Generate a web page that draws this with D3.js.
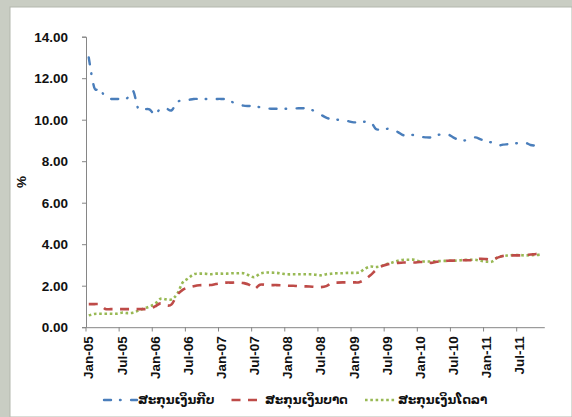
<!DOCTYPE html>
<html>
<head>
<meta charset="utf-8">
<script src="https://cdn.jsdelivr.net/npm/d3@7"></script>
<style>
  html, body { margin: 0; padding: 0; background: #c9cdc3; }
  svg { display: block; }
</style>
</head>
<body>
<svg id="chart" width="572" height="417"></svg>
<script>
const months = (function () {
  const names = ["Jan","Feb","Mar","Apr","May","Jun","Jul","Aug","Sep","Oct","Nov","Dec"];
  const out = [];
  for (let y = 5; y <= 11; y++) {
    for (let m = 0; m < 12; m++) {
      if (y === 11 && m > 10) break;
      out.push(names[m] + "-" + String(y).padStart(2, "0"));
    }
  }
  return out;
})();

const tickLabels = ["Jan-05","Jul-05","Jan-06","Jul-06","Jan-07","Jul-07","Jan-08","Jul-08","Jan-09","Jul-09","Jan-10","Jul-10","Jan-11","Jul-11"];
const yTicks = [0, 2, 4, 6, 8, 10, 12, 14];

const seriesNames = ["ສະກຸນເງິນກີບ", "ສະກຸນເງິນບາດ", "ສະກຸນເງິນໂດລາ"];

const kip = [13.0,11.55,11.5,11.08,11.0,11.0,11.0,11.05,11.4,10.5,10.5,10.5,
  10.25,10.55,10.55,10.45,10.85,10.92,10.95,11.0,11.0,11.0,11.0,11.0,
  11.0,10.98,10.85,10.75,10.68,10.66,10.65,10.6,10.55,10.53,10.53,10.53,
  10.53,10.53,10.55,10.55,10.5,10.4,10.25,10.1,10.02,10.0,10.0,9.93,
  9.87,9.9,9.9,9.92,9.55,9.55,9.56,9.55,9.4,9.25,9.28,9.25,
  9.18,9.15,9.15,9.25,9.3,9.3,9.15,9.03,9.0,9.05,9.15,9.05,
  8.95,8.9,8.75,8.8,8.82,8.85,8.88,8.9,8.78,8.75,8.75];

const baht = [1.11,1.11,1.1,0.88,0.87,0.87,0.87,0.87,0.87,0.87,0.87,0.88,
  1.0,1.15,1.05,1.1,1.55,1.8,1.9,1.97,2.02,2.03,2.03,2.08,
  2.13,2.15,2.15,2.16,2.13,2.05,1.85,2.05,2.04,2.03,2.03,2.02,
  2.0,2.0,1.98,1.97,1.96,1.94,1.93,1.98,2.13,2.15,2.16,2.16,
  2.16,2.17,2.3,2.5,2.75,2.93,3.02,3.07,3.1,3.12,3.12,3.12,
  3.14,3.14,3.1,3.15,3.18,3.2,3.21,3.22,3.23,3.23,3.27,3.3,
  3.28,3.25,3.35,3.43,3.45,3.46,3.46,3.47,3.5,3.53,3.54];

const dollar = [0.57,0.64,0.65,0.65,0.65,0.65,0.7,0.68,0.7,0.8,0.9,1.0,
  1.12,1.37,1.34,1.34,1.6,2.15,2.35,2.55,2.58,2.58,2.55,2.58,
  2.58,2.58,2.6,2.6,2.6,2.5,2.41,2.58,2.63,2.63,2.62,2.58,
  2.55,2.55,2.55,2.55,2.55,2.53,2.5,2.55,2.58,2.6,2.6,2.62,
  2.62,2.64,2.82,2.92,2.9,2.95,3.05,3.12,3.2,3.25,3.25,3.25,
  3.17,3.17,3.17,3.18,3.19,3.2,3.2,3.22,3.24,3.25,3.25,3.2,
  3.16,3.16,3.35,3.43,3.46,3.48,3.48,3.46,3.47,3.48,3.5];

const svg = d3.select("#chart");
const W = 572, H = 417;

svg.append("rect").attr("x", 0).attr("y", 0).attr("width", W).attr("height", H).attr("fill", "#c9cdc3");
svg.append("rect").attr("x", 10).attr("y", 7).attr("width", W - 10).attr("height", H - 7)
  .attr("fill", "#ffffff").attr("stroke", "#b3b8ad").attr("stroke-width", 1);

const x = d3.scaleBand().domain(months).range([86, 544.3]).padding(0);
const y = d3.scaleLinear().domain([0, 14]).range([327.2, 36.7]);

const font = "'Liberation Sans', Arial, sans-serif";
const fs = 13.5;

// Y axis
const yAxis = svg.append("g").attr("transform", "translate(86,0)")
  .call(d3.axisLeft(y).tickValues(yTicks).tickFormat(d3.format(".2f")).tickSize(4).tickPadding(14));
yAxis.select(".domain").attr("stroke", "#868686").attr("stroke-width", 1);
yAxis.selectAll(".tick line").attr("stroke", "#868686");
yAxis.selectAll("text").attr("font-family", font).attr("font-size", fs).attr("font-weight", "bold").attr("fill", "#111");

// X axis: labels at category centres
const xAxis = svg.append("g").attr("transform", "translate(0,327.2)")
  .call(d3.axisBottom(x).tickValues(tickLabels).tickSize(0).tickPadding(0));
xAxis.select(".domain").attr("stroke", "#868686").attr("stroke-width", 1);
xAxis.selectAll(".tick text")
  .attr("font-family", font).attr("font-size", fs).attr("font-weight", "bold").attr("fill", "#111")
  .attr("text-anchor", "end")
  .attr("dy", "0.35em")
  .attr("transform", "translate(0,9) rotate(-90)")
  .attr("x", 0).attr("y", 0);

// X tick marks at category boundaries every 6 months
svg.append("g").selectAll("line")
  .data(tickLabels)
  .join("line")
  .attr("x1", d => x(d)).attr("x2", d => x(d))
  .attr("y1", 327.2).attr("y2", 331.5)
  .attr("stroke", "#868686").attr("stroke-width", 1);

// Y label
svg.append("text")
  .attr("transform", "translate(21,182) rotate(-90)")
  .attr("text-anchor", "middle").attr("dy", "0.35em")
  .attr("font-family", font).attr("font-size", fs).attr("font-weight", "bold").attr("fill", "#111")
  .text("%");

const line = d3.line()
  .x((d, i) => x(months[i]) + x.bandwidth() / 2)
  .y(d => y(d))
  .curve(d3.curveCardinal.tension(0));

const styles = [
  { data: kip, color: "#4a7ebb", width: 2.4, dash: "7,9,0.6,10.5", cap: "round" },
  { data: baht, color: "#be4b48", width: 2.6, dash: "9,7.5", cap: "butt" },
  { data: dollar, color: "#98b954", width: 2.6, dash: "2.6,2.7", cap: "butt" }
];

[2, 1, 0].forEach(k => {
  const s = styles[k];
  svg.append("path")
    .attr("d", line(s.data))
    .attr("fill", "none")
    .attr("stroke", s.color)
    .attr("stroke-width", s.width)
    .attr("stroke-dasharray", s.dash)
    .attr("stroke-linecap", s.cap);
});

// Legend
const legendItems = [
  { x1: 104, x2: 137, tx: 138 },
  { x1: 231.5, x2: 263, tx: 265 },
  { x1: 365, x2: 396, tx: 398 }
];
const legend = svg.append("g");
legendItems.forEach((L, k) => {
  const s = styles[k];
  legend.append("line")
    .attr("x1", L.x1).attr("x2", L.x2).attr("y1", 400).attr("y2", 400)
    .attr("stroke", s.color).attr("stroke-width", s.width)
    .attr("stroke-dasharray", s.dash).attr("stroke-linecap", s.cap);
  legend.append("text")
    .attr("x", L.tx).attr("y", 400).attr("dy", "0.35em")
    .attr("font-family", "'DejaVu Sans', 'Noto Sans', sans-serif")
    .attr("font-size", 12).attr("font-weight", "bold").attr("fill", "#111")
    .text(seriesNames[k]);
});
</script>
</body>
</html>
